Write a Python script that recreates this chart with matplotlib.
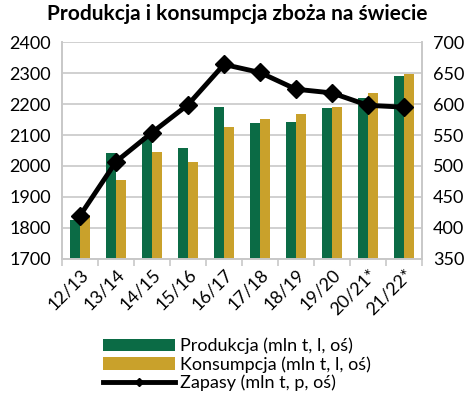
import matplotlib.pyplot as plt
import numpy as np

plt.rcParams['font.family'] = ['Lato', 'DejaVu Sans']

seasons = ['12/13', '13/14', '14/15', '15/16', '16/17', '17/18', '18/19', '19/20', '20/21*', '21/22*']
produkcja = [1827, 2042, 2095, 2058, 2190, 2139, 2142, 2186, 2219, 2292]
konsumpcja = [1841, 1956, 2046, 2013, 2126, 2152, 2169, 2192, 2237, 2298]
zapasy = [420, 507, 554, 599, 664, 651, 624, 618, 598, 595]

green = '#0b6b45'
gold = '#c9a12b'
grid_col = '#c8c8c8'

fig = plt.figure(figsize=(4.74, 3.94), dpi=100)
ax = fig.add_axes([0.131, 0.343, 0.759, 0.550])
ax2 = ax.twinx()

x = np.arange(len(seasons))
w = 0.28
b1 = ax.bar(x - w / 2, produkcja, w, color=green, label='Produkcja (mln t, l, oś)', zorder=2)
b2 = ax.bar(x + w / 2, konsumpcja, w, color=gold, label='Konsumpcja (mln t, l, oś)', zorder=2)
l1, = ax2.plot(x, zapasy, color='black', lw=3.5, marker='D', ms=9,
               label='Zapasy (mln t, p, oś)', zorder=3)

ax.set_ylim(1700, 2400)
ax.set_yticks(np.arange(1700, 2401, 100))
ax2.set_ylim(350, 700)
ax2.set_yticks(np.arange(350, 701, 50))
ax.set_xlim(-0.5, len(seasons) - 0.5)
ax.set_xticks(x)
ax.set_xticklabels(seasons, rotation=45, ha='right', rotation_mode='anchor')
ax.set_xticks(np.arange(-0.5, len(seasons)), minor=True)

ax.grid(axis='y', color=grid_col, lw=1.2, zorder=0)
ax.set_axisbelow(True)
for a in (ax, ax2):
    a.spines['top'].set_visible(False)
    for s in ('left', 'right', 'bottom'):
        a.spines[s].set_color(grid_col)
        a.spines[s].set_linewidth(1.2)
    a.tick_params(axis='y', length=0, labelsize=13, pad=8)
ax.tick_params(axis='x', which='major', length=0, labelsize=13, pad=5)
ax.tick_params(axis='x', which='minor', length=5, color=grid_col, width=1.2)

fig.suptitle('Produkcja i konsumpcja zboża na świecie', x=0.5, y=0.99,
             fontsize=15, fontweight='bold')

fig.legend(handles=[b1, b2, l1], loc='lower center', bbox_to_anchor=(0.5, -0.025),
           frameon=False, fontsize=13, handlelength=4.0, labelspacing=0.1,
           handletextpad=0.3, borderpad=0.2, markerscale=0.5)

fig.savefig('out.png', dpi=100)
